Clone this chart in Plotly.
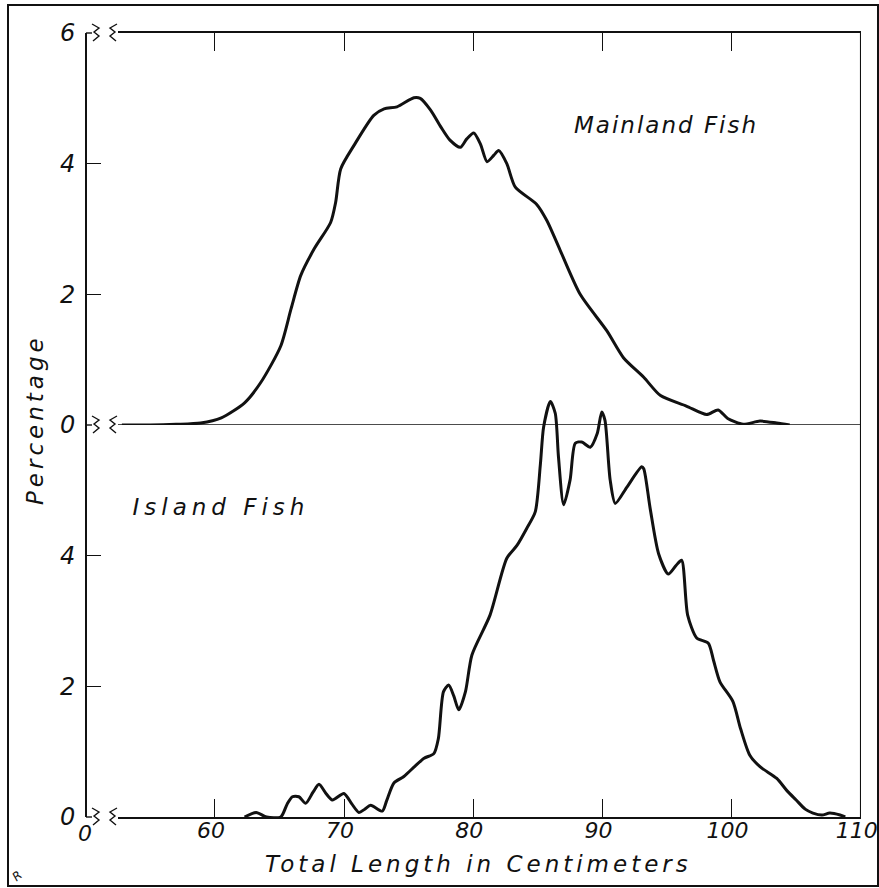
import plotly.graph_objects as go

# Length-frequency curves (total length in cm, percentage of catch)
mainland_len = [52.8, 55.0, 57.0, 58.9, 60.5, 62.3, 63.55, 65.1, 65.9, 66.65, 67.7, 68.96,
                69.35, 69.74, 70.77, 72.3, 73.1, 74.1, 75.4, 75.9, 76.7, 77.5, 78.2, 79.0,
                79.5, 80.04, 80.56, 81.07, 81.6, 81.97, 82.6, 83.26, 84.9, 85.7, 86.74,
                88.28, 90.35, 91.63, 93.2, 94.5, 96.5, 98.07, 98.96, 99.7, 100.9, 102.2,
                103.5, 104.5]
mainland_pct = [0.0, 0.0, 0.01, 0.03, 0.11, 0.34, 0.65, 1.21, 1.78, 2.29, 2.70, 3.10,
                3.41, 3.92, 4.28, 4.74, 4.84, 4.87, 5.01, 5.00, 4.82, 4.56, 4.36, 4.25,
                4.38, 4.47, 4.30, 4.03, 4.13, 4.20, 4.00, 3.64, 3.38, 3.13, 2.67,
                2.00, 1.44, 1.03, 0.73, 0.45, 0.29, 0.16, 0.23, 0.10, 0.01, 0.06,
                0.03, 0.0]

island_len = [62.3, 63.2, 64.0, 65.1, 65.6, 66.0, 66.5, 67.03, 67.6, 68.06, 68.6, 69.1,
              69.99, 70.6, 71.15, 71.6, 72.06, 72.96, 73.3, 73.86, 74.63, 75.5, 76.2,
              76.95, 77.3, 77.7, 78.1, 78.5, 78.88, 79.4, 79.9, 81.3, 82.6, 83.4, 84.15,
              84.8, 85.2, 85.45, 85.97, 86.35, 86.6, 87.0, 87.5, 87.9, 88.4, 89.06, 89.6,
              89.95, 90.2, 90.6, 91.0, 91.9, 93.04, 93.2, 93.7, 94.35, 95.1, 95.7, 96.13,
              96.6, 97.3, 98.2, 98.6, 99.1, 100.1, 100.7, 101.4, 102.2, 103.5, 104.3,
              105.0, 105.7, 106.3, 107.0, 107.6, 108.4, 108.8]
island_pct = [0.0, 0.07, 0.0, 0.0, 0.2, 0.31, 0.31, 0.21, 0.38, 0.50, 0.36, 0.26,
              0.36, 0.2, 0.07, 0.12, 0.18, 0.09, 0.25, 0.52, 0.62, 0.78, 0.90,
              0.97, 1.20, 1.92, 2.02, 1.85, 1.64, 1.92, 2.48, 3.09, 3.96, 4.16, 4.42,
              4.67, 5.4, 5.97, 6.36, 6.18, 5.51, 4.78, 5.16, 5.72, 5.74, 5.66, 5.87,
              6.2, 6.07, 5.16, 4.80, 5.05, 5.36, 5.33, 4.72, 4.03, 3.72, 3.85, 3.93,
              3.09, 2.74, 2.66, 2.4, 2.07, 1.77, 1.35, 0.95, 0.77, 0.59, 0.40,
              0.26, 0.12, 0.06, 0.03, 0.06, 0.03, 0.0]

x_ticks = [60, 70, 80, 90, 100, 110]
y_ticks_top = [0, 2, 4, 6]
y_ticks_bottom = [0, 2, 4]

W, H = 879, 888
ML, MR, MT, MB = 86, 18, 33, 71
PW, PH = W - ML - MR, H - MT - MB
INK = "#111111"
FONT = "DejaVu Sans"
X_RANGE = [52.5, 110.02]


def px(x):
    return (x - ML) / PW


def py(y):
    return (H - MB - y) / PH


fig = go.Figure()

fig.add_trace(go.Scatter(
    x=island_len, y=island_pct, xaxis="x", yaxis="y",
    mode="lines", line=dict(color=INK, width=3, shape="spline", smoothing=0.7),
    hoverinfo="skip", showlegend=False))

fig.add_trace(go.Scatter(
    x=mainland_len, y=mainland_pct, xaxis="x2", yaxis="y2",
    mode="lines", line=dict(color=INK, width=3, shape="spline", smoothing=0.7),
    hoverinfo="skip", showlegend=False))

tick_font = dict(family=FONT, size=24, color=INK, style="italic")
xtick_font = dict(family=FONT, size=22, color=INK, style="italic")
x_left = px(118)

axis_common = dict(showgrid=False, zeroline=False, showline=True, linecolor=INK,
                   linewidth=1.6, ticks="inside", tickcolor=INK, tickwidth=1.4,
                   automargin=False)

fig.update_layout(
    template="none",
    width=W, height=H,
    margin=dict(l=ML, r=MR, t=MT, b=MB, autoexpand=False),
    paper_bgcolor="white", plot_bgcolor="rgba(0,0,0,0)",
    xaxis=dict(domain=[x_left, 1], range=X_RANGE, tickvals=x_ticks,
               ticklen=18, tickfont=xtick_font, anchor="y", ticklabelstandoff=-7,
               ticklabelshift=-4, ticklabeloverflow="allow", **axis_common),
    xaxis2=dict(domain=[x_left, 1], matches="x", anchor="y2", side="top",
                tickvals=x_ticks[:-1], ticklen=18, showticklabels=False,
                **axis_common),
    yaxis=dict(domain=[0, 0.55], range=[0, 6.6], tickvals=y_ticks_bottom,
               ticklen=14, tickfont=tick_font, anchor="free", position=0,
               ticklabelstandoff=5, **axis_common),
    yaxis2=dict(domain=[0.5, 1], range=[0, 6], tickvals=y_ticks_top,
                ticklen=14, tickfont=tick_font, anchor="free", position=0,
                ticklabelstandoff=5, **axis_common),
)

# frame: right edge and the shared baseline between the two panels
fig.add_shape(type="line", xref="x", yref="paper", x0=110, x1=110, y0=0, y1=1,
              line=dict(color=INK, width=1.6))
fig.add_shape(type="line", xref="x", yref="y2", x0=X_RANGE[0], x1=110, y0=0, y1=0,
              line=dict(color=INK, width=1.6))

# outer border of the figure
fig.add_shape(type="rect", xref="paper", yref="paper",
              x0=px(8), x1=px(878), y0=py(886), y1=py(5),
              line=dict(color=INK, width=2))

# axis-break marks where the baselines are cut short
for yb in (MT, MT + PH / 2, H - MB):
    left = [(92, yb - 9), (99, yb - 5), (94, yb - 1), (99, yb + 3), (93, yb + 8)]
    right = [(117, yb - 9), (110, yb - 5), (115, yb - 1), (110, yb + 3), (116, yb + 8)]
    for pts in (left, right):
        path = "M " + " L ".join(f"{px(a):.5f},{py(b):.5f}" for a, b in pts)
        fig.add_shape(type="path", xref="paper", yref="paper", path=path,
                      line=dict(color=INK, width=1.4))
    fig.add_shape(type="line", xref="paper", yref="paper",
                  x0=px(86), x1=px(92), y0=py(yb), y1=py(yb),
                  line=dict(color=INK, width=1.4))

label_font = dict(family=FONT, size=23, color=INK, style="italic")

fig.add_annotation(text="0", xref="paper", yref="paper", x=px(85), y=py(833),
                   xanchor="center", yanchor="middle", showarrow=False, font=xtick_font)
fig.add_annotation(text="Total Length in Centimeters", xref="paper", yref="paper",
                   x=px(478), y=py(864), xanchor="center", yanchor="middle",
                   showarrow=False, font=label_font)
fig.add_annotation(text="Percentage", xref="paper", yref="paper",
                   x=px(35), y=py(420), xanchor="center", yanchor="middle",
                   textangle=-90, showarrow=False, font=label_font)
fig.add_annotation(text="Mainland Fish", xref="x2", yref="y2", x=94.9, y=4.59,
                   xanchor="center", yanchor="middle", showarrow=False, font=label_font)
fig.add_annotation(text="Island Fish", xref="x", yref="y", x=60.5, y=4.75,
                   xanchor="center", yanchor="middle", showarrow=False, font=label_font)
fig.add_annotation(text="R", xref="paper", yref="paper", x=px(17), y=py(876),
                   xanchor="center", yanchor="middle", textangle=-40, showarrow=False,
                   font=dict(family=FONT, size=12, color=INK, style="italic"))

spacing_js = """
var gd = document.getElementById('{plot_id}');
var sp = {'Total Length in Centimeters': '4px', 'Percentage': '4px',
          'Mainland Fish': '2px', 'Island Fish': '5px'};
gd.querySelectorAll('.annotation-text').forEach(function (t) {
  var s = sp[t.textContent];
  if (s) { t.style.letterSpacing = s; }
});
"""

fig.write_html("out.html", post_script=spacing_js)
